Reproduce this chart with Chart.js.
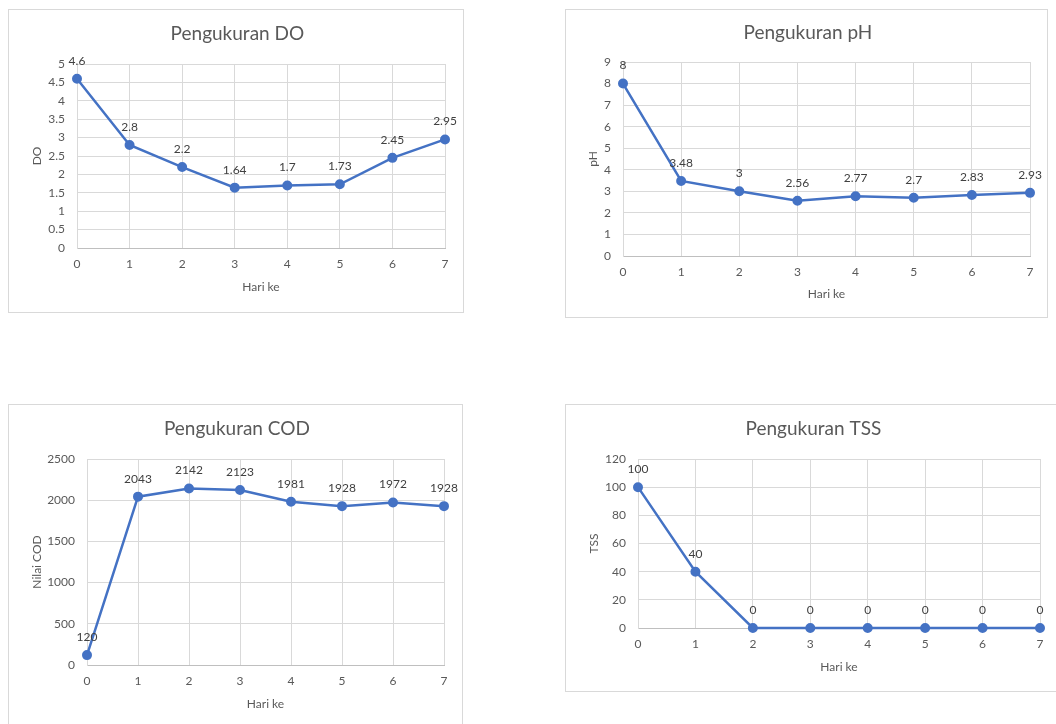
<!DOCTYPE html>
<html>
<head>
<meta charset="utf-8">
<script src="https://cdn.jsdelivr.net/npm/chart.js@4/dist/chart.umd.min.js"></script>
<style>
  html, body { margin: 0; padding: 0; background: #fff; overflow: hidden; width: 1056px; height: 724px; }
  .box { position: absolute; border: 1px solid #d9d9d9; box-sizing: border-box; background: #fff; }
  .box canvas { position: absolute; left: 0; top: 0; }
</style>
</head>
<body>
<div class="box" id="boxDO" style="left:8px;top:9px;width:456px;height:304px;"><canvas id="cDO"></canvas></div>
<div class="box" id="boxPH" style="left:565px;top:9px;width:483px;height:309px;"><canvas id="cPH"></canvas></div>
<div class="box" id="boxCOD" style="left:8px;top:404px;width:455px;height:340px;"><canvas id="cCOD"></canvas></div>
<div class="box" id="boxTSS" style="left:565px;top:404px;width:500px;height:288px;"><canvas id="cTSS"></canvas></div>
<script>
// Days of observation
const hariKe = ['0', '1', '2', '3', '4', '5', '6', '7'];

// Measured values per day
const nilaiDO = [4.6, 2.8, 2.2, 1.64, 1.7, 1.73, 2.45, 2.95];
const nilaiPH = [8, 3.48, 3, 2.56, 2.77, 2.7, 2.83, 2.93];
const nilaiCOD = [120, 2043, 2142, 2123, 1981, 1928, 1972, 1928];
const nilaiTSS = [100, 40, 0, 0, 0, 0, 0, 0];

const FONT = 'Lato, "Open Sans", sans-serif';
const BLUE = '#4472C4';
const GREY_TEXT = '#595959';

// Draws each point's value just above the marker
const valueLabels = {
  id: 'valueLabels',
  afterDatasetsDraw(chart) {
    const ctx = chart.ctx;
    ctx.save();
    ctx.font = '12px ' + FONT;
    ctx.fillStyle = '#404040';
    ctx.textAlign = 'center';
    ctx.textBaseline = 'middle';
    chart.data.datasets.forEach((ds, di) => {
      const meta = chart.getDatasetMeta(di);
      meta.data.forEach((pt, i) => {
        ctx.fillText(String(ds.data[i]), pt.x, pt.y - 18);
      });
    });
    ctx.restore();
  }
};

// Plain numbers on the value axis: "5", "4.5", "2500"
const plainNumber = (v) => String(Number(Number(v).toFixed(3)));

function makeChart(id, w, h, cfg) {
  const canvas = document.getElementById(id);
  canvas.width = w; canvas.height = h;
  canvas.style.width = w + 'px'; canvas.style.height = h + 'px';
  const a = cfg.area;
  const titleSize = 19;
  const titleLH = titleSize * 1.2;
  const titleTop = cfg.titleY - titleLH / 2;
  const axisLH = 12 * 1.2;
  const padLeft = cfg.yTitleX - axisLH / 2;
  const xAxisH = cfg.xTitleGap + axisLH / 2;
  return new Chart(canvas, {
    type: 'line',
    data: {
      labels: hariKe,
      datasets: [{
        data: cfg.values,
        borderColor: BLUE,
        backgroundColor: BLUE,
        borderWidth: 2.5,
        pointRadius: 3.75,
        pointHoverRadius: 3.75,
        pointBackgroundColor: BLUE,
        pointBorderColor: BLUE,
        tension: 0,
        clip: false
      }]
    },
    options: {
      responsive: false,
      animation: false,
      devicePixelRatio: 1,
      layout: {
        padding: { left: padLeft, top: 0, right: w - a.r, bottom: h - a.b - xAxisH }
      },
      plugins: {
        legend: { display: false },
        tooltip: { enabled: false },
        title: {
          display: true,
          text: cfg.title,
          color: GREY_TEXT,
          font: { family: FONT, size: titleSize, weight: 'normal', lineHeight: 1.2 },
          padding: { top: titleTop, bottom: a.t - titleTop - titleLH }
        }
      },
      scales: {
        x: {
          type: 'category',
          offset: false,
          grid: { color: '#d9d9d9', drawTicks: false, lineWidth: 1 },
          border: { color: '#bfbfbf', width: 1 },
          ticks: { color: GREY_TEXT, font: { family: FONT, size: 12 }, padding: 9, maxRotation: 0, autoSkip: false },
          title: { display: true, text: 'Hari ke', color: GREY_TEXT, font: { family: FONT, size: 12, lineHeight: 1.2 }, padding: 0 },
          afterFit(scale) { scale.height = xAxisH; }
        },
        y: {
          min: cfg.min, max: cfg.max,
          grid: { color: '#d9d9d9', drawTicks: false, lineWidth: 1 },
          border: { color: '#d9d9d9', width: 1 },
          ticks: { stepSize: cfg.step, color: GREY_TEXT, font: { family: FONT, size: 12 }, padding: 12, callback: plainNumber },
          title: { display: true, text: cfg.yTitle, color: GREY_TEXT, font: { family: FONT, size: 12, lineHeight: 1.2 }, padding: 0 },
          afterFit(scale) { scale.width = a.l - padLeft; }
        }
      }
    },
    plugins: [valueLabels]
  });
}

makeChart('cDO', 454, 302, {
  title: 'Pengukuran DO', yTitle: 'DO', values: nilaiDO,
  min: 0, max: 5, step: 0.5,
  area: { l: 68, t: 54, r: 436, b: 238 }, titleY: 24, yTitleX: 28, xTitleGap: 39
});
makeChart('cPH', 481, 307, {
  title: 'Pengukuran pH', yTitle: 'pH', values: nilaiPH,
  min: 0, max: 9, step: 1,
  area: { l: 57, t: 52, r: 464, b: 246 }, titleY: 23, yTitleX: 27, xTitleGap: 38
});
makeChart('cCOD', 453, 338, {
  title: 'Pengukuran COD', yTitle: 'Nilai COD', values: nilaiCOD,
  min: 0, max: 2500, step: 500,
  area: { l: 78, t: 54, r: 435, b: 260 }, titleY: 24, yTitleX: 28, xTitleGap: 39
});
makeChart('cTSS', 498, 286, {
  title: 'Pengukuran TSS', yTitle: 'TSS', values: nilaiTSS,
  min: 0, max: 120, step: 20,
  area: { l: 72, t: 54, r: 474, b: 223 }, titleY: 24, yTitleX: 28, xTitleGap: 39
});
</script>
</body>
</html>
